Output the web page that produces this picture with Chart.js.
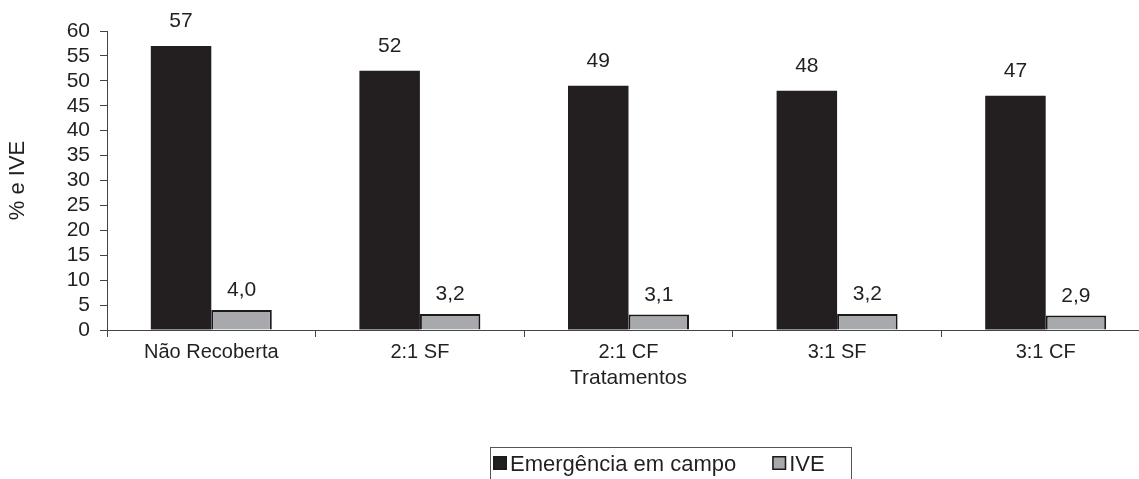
<!DOCTYPE html>
<html>
<head>
<meta charset="utf-8">
<script src="https://cdn.jsdelivr.net/npm/chart.js@4.4.1/dist/chart.umd.min.js"></script>
<style>
  html, body { margin: 0; padding: 0; background: #fff; overflow: hidden; }
  #wrap { width: 1139px; height: 479px; overflow: hidden; position: relative; }
</style>
</head>
<body>
<div id="wrap"><canvas id="c" width="1160" height="500"></canvas></div>
<script>
// Treatments and measured values
const categories = ['Não Recoberta', '2:1 SF', '2:1 CF', '3:1 SF', '3:1 CF'];
const emergencia = [57, 52, 49, 48, 47];
const ive = [4.0, 3.2, 3.1, 3.2, 2.9];
const seriesNames = ['Emergência em campo', 'IVE'];
const yTicks = [0, 5, 10, 15, 20, 25, 30, 35, 40, 45, 50, 55, 60];

const FONT = "'Liberation Sans', Arial, sans-serif";
const INK = '#231f20';

// Value labels above each bar
const valueLabels = {
  id: 'valueLabels',
  afterDatasetsDraw(chart) {
    const ctx = chart.ctx;
    ctx.save();
    ctx.fillStyle = INK;
    ctx.font = '21px ' + FONT;
    ctx.textAlign = 'center';
    ctx.textBaseline = 'alphabetic';
    chart.data.datasets.forEach((ds, di) => {
      const meta = chart.getDatasetMeta(di);
      const lift = di === 0 ? 19 : 14;
      meta.data.forEach((bar, i) => {
        const v = ds.data[i];
        const txt = di === 0 ? String(v) : v.toFixed(1).replace('.', ',');
        ctx.fillText(txt, bar.x, bar.y - lift);
      });
    });
    ctx.restore();
  }
};

// Boxed legend below the axis title
const boxedLegend = {
  id: 'boxedLegend',
  afterDraw(chart) {
    const ctx = chart.ctx;
    const left = 490, top = 447, right = 851;
    ctx.save();
    ctx.strokeStyle = '#555';
    ctx.lineWidth = 1;
    ctx.strokeRect(left + 0.5, top + 0.5, right - left, 100);
    ctx.font = '22px ' + FONT;
    ctx.textBaseline = 'alphabetic';
    const baseline = 471;
    let x = left + 3;
    chart.data.datasets.forEach((ds) => {
      ctx.fillStyle = ds.backgroundColor;
      ctx.fillRect(x, baseline - 15, 14, 14);
      ctx.strokeStyle = '#1a1a1a';
      ctx.lineWidth = 1.5;
      ctx.strokeRect(x + 0.75, baseline - 15 + 0.75, 12.5, 12.5);
      ctx.fillStyle = INK;
      ctx.fillText(ds.label, x + 17, baseline);
      x += 17 + ctx.measureText(ds.label).width + 36;
    });
    ctx.restore();
  }
};

new Chart(document.getElementById('c'), {
  type: 'bar',
  data: {
    labels: categories,
    datasets: [
      {
        label: seriesNames[0],
        data: emergencia,
        backgroundColor: '#231f20',
        borderColor: '#1a1a1a',
        borderWidth: 0
      },
      {
        label: seriesNames[1],
        data: ive,
        backgroundColor: '#a7a9ac',
        borderColor: '#1a1a1a',
        borderWidth: 2
      }
    ]
  },
  options: {
    responsive: false,
    animation: false,
    devicePixelRatio: 1,
    layout: { padding: { left: 0, top: 31, right: 10, bottom: 109 } },
    datasets: { bar: { categoryPercentage: 0.58, barPercentage: 1 } },
    plugins: {
      legend: { display: false },
      tooltip: { enabled: false }
    },
    scales: {
      x: {
        grid: { offset: true, drawOnChartArea: false, drawTicks: true, tickLength: 7, color: '#444' },
        border: { color: '#444', width: 1 },
        ticks: { color: INK, font: { family: FONT, size: 20 }, padding: 3, maxRotation: 0 },
        title: { display: true, text: 'Tratamentos', color: INK, font: { family: FONT, size: 21 }, padding: 0 },
        afterFit(scale) { scale.height = 61; }
      },
      y: {
        min: 0,
        max: 60,
        afterBuildTicks(scale) { scale.ticks = yTicks.map(v => ({ value: v })); },
        grid: { drawOnChartArea: false, drawTicks: true, tickLength: 7, color: '#444' },
        border: { color: '#444', width: 1 },
        ticks: { color: INK, font: { family: FONT, size: 21 }, padding: 10, autoSkip: false },
        title: { display: true, text: '% e IVE', color: INK, font: { family: FONT, size: 22 }, padding: { top: 5, bottom: 0 } },
        afterFit(scale) { scale.width = 107; }
      }
    }
  },
  plugins: [valueLabels, boxedLegend]
});
</script>
</body>
</html>
